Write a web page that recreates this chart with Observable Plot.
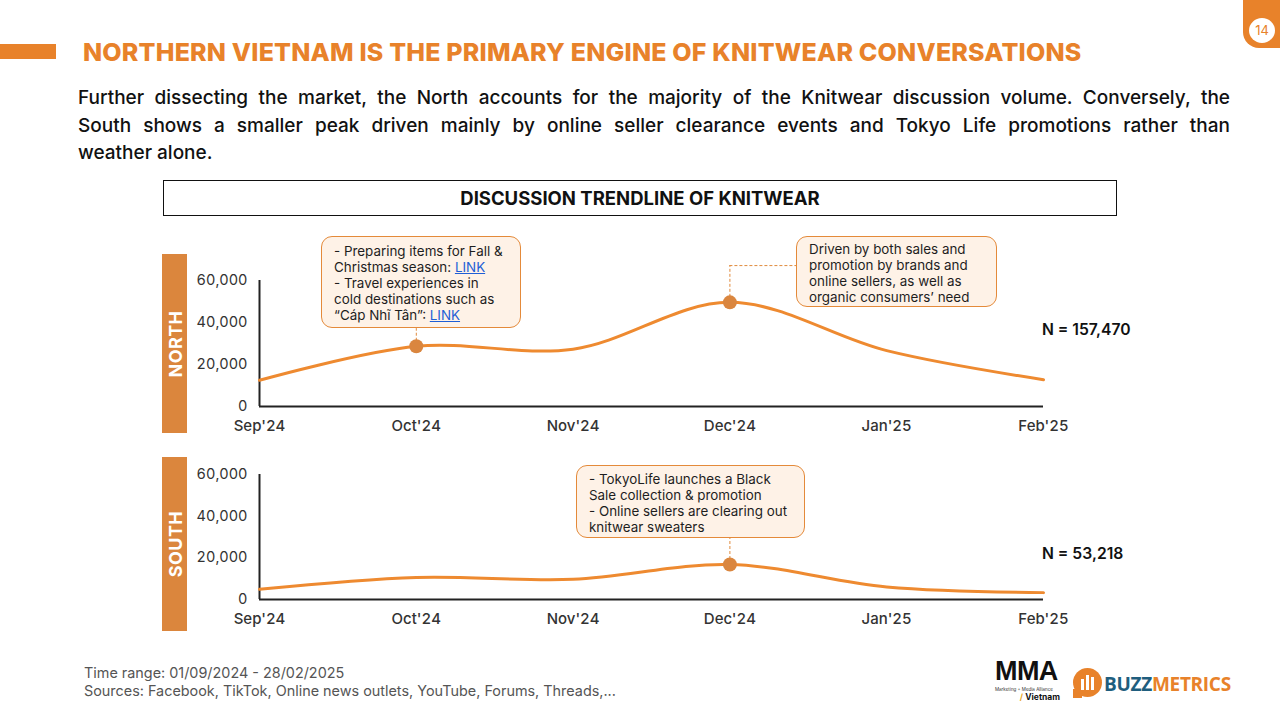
<!DOCTYPE html>
<html>
<head>
<meta charset="utf-8">
<script src="https://cdn.jsdelivr.net/npm/d3@7"></script>
<script src="https://cdn.jsdelivr.net/npm/@observablehq/plot@0.6"></script>
<style>
  html, body { margin: 0; padding: 0; background: #fff; }
  #page { position: relative; width: 1280px; height: 720px; overflow: hidden; font-family: Inter, "Noto Sans", sans-serif; color: #111; }
  .abs { position: absolute; }
  .box { position: absolute; box-sizing: border-box; border: 1px solid #E48A3A; background: #FEF2E7; border-radius: 11px; font-size: 13.4px; line-height: 16px; color: #1e1e1e; white-space: nowrap; }
  .box a { color: #1f5fd6; text-decoration: underline; }
  .side { position: absolute; background: #DB863D; width: 25px; }
  .side span { position: absolute; left: 50%; top: 50%; transform: translate(-50%, -50%) rotate(-90deg); color: #fff; font-weight: 700; font-size: 18px; letter-spacing: 0.4px; white-space: nowrap; }
  .nlabel { position: absolute; font-weight: 600; font-size: 15.7px; color: #111; }
  .jl { text-align: justify; text-align-last: justify; }
</style>
</head>
<body>
<div id="page">
  <div class="abs" style="left:0;top:44px;width:56px;height:15px;background:#E8822A;"></div>
  <div class="abs" id="title" style="left:83px;top:37px;font-size:25px;font-weight:800;color:#E8822A;white-space:nowrap;letter-spacing:0.2px;">NORTHERN VIETNAM IS THE PRIMARY ENGINE OF KNITWEAR CONVERSATIONS</div>

  <div class="abs" style="left:1243px;top:-10px;width:40px;height:58px;background:#E8822A;border-radius:0 0 0 16px;"></div>
  <div class="abs" style="left:1249px;top:18px;width:26px;height:25px;background:#fff;border-radius:50%;color:#E8822A;font-size:13px;line-height:25px;text-align:center;">14</div>

  <div class="abs" style="left:78px;top:84px;width:1152px;font-size:19px;font-weight:500;line-height:27.5px;color:#111;">
    <div class="jl">Further dissecting the market, the North accounts for the majority of the Knitwear discussion volume. Conversely, the</div>
    <div class="jl">South shows a smaller peak driven mainly by online seller clearance events and Tokyo Life promotions rather than</div>
    <div>weather alone.</div>
  </div>

  <div class="abs" style="left:163px;top:180px;width:954px;height:36px;box-sizing:border-box;border:1px solid #111;text-align:center;font-weight:700;font-size:18.5px;line-height:34px;">DISCUSSION TRENDLINE OF KNITWEAR</div>

  <div class="side" style="left:162px;top:254px;height:179px;"><span>NORTH</span></div>
  <div class="side" style="left:162px;top:457px;height:174px;"><span>SOUTH</span></div>

  <div class="abs" id="north" style="left:190px;top:240px;"></div>
  <div class="abs" id="south" style="left:190px;top:440px;"></div>

  <div class="nlabel" style="left:1042px;top:320px;">N = 157,470</div>
  <div class="nlabel" style="left:1042px;top:544px;">N = 53,218</div>

  <div class="box" style="left:321px;top:236px;width:200px;height:92px;padding:6px 0 0 12px;">- Preparing items for Fall &amp;<br>Christmas season: <a>LINK</a><br>- Travel experiences in<br>cold destinations such as<br>“Cáp Nhĩ Tân”: <a>LINK</a></div>
  <div class="box" style="left:796px;top:236px;width:201px;height:71px;padding:4px 0 0 12px;">Driven by both sales and<br>promotion by brands and<br>online sellers, as well as<br>organic consumers’ need</div>
  <div class="box" style="left:576px;top:465px;width:229px;height:73px;padding:5px 0 0 12px;">- TokyoLife launches a Black<br>Sale collection &amp; promotion<br>- Online sellers are clearing out<br>knitwear sweaters</div>

  <div class="abs" style="left:84px;top:664px;font-size:14.4px;line-height:18px;color:#555;white-space:nowrap;">Time range: 01/09/2024 - 28/02/2025<br>Sources: Facebook, TikTok, Online news outlets, YouTube, Forums, Threads,...</div>

  <!-- logos -->
  <div class="abs" style="left:995px;top:660px;font-family:'Liberation Sans',Arial,sans-serif;font-weight:900;font-size:27px;line-height:22px;letter-spacing:-0.6px;color:#111;">MMA</div>
  <div class="abs" style="left:995px;top:688px;font-size:4.5px;line-height:4px;color:#333;white-space:nowrap;">Marketing + Media Alliance</div>
  <div class="abs" style="left:1012px;top:693px;width:48px;font-size:8.5px;line-height:9px;font-weight:700;color:#111;text-align:right;white-space:nowrap;"><span style="color:#E8A317;">/</span> Vietnam</div>

  <div class="abs" style="left:1073px;top:668px;width:29px;height:29px;border-radius:50%;background:#E8822A;"></div>
  <div class="abs" style="left:1073px;top:689px;width:9px;height:9px;background:#E8822A;"></div>
  <div class="abs" style="left:1081px;top:679px;width:3px;height:11px;background:#fff;"></div>
  <div class="abs" style="left:1086px;top:675px;width:3px;height:15px;background:#fff;"></div>
  <div class="abs" style="left:1091px;top:677px;width:3px;height:13px;background:#fff;"></div>
  <div class="abs" style="left:1104px;top:671px;font-family:'Open Sans',sans-serif;font-weight:700;font-size:19px;line-height:26px;letter-spacing:-0.3px;"><span style="color:#1F5E7E;">BUZZ</span><span style="color:#E8822A;">METRICS</span></div>
</div>
<script>
const months = ["Sep'24", "Oct'24", "Nov'24", "Dec'24", "Jan'25", "Feb'25"];
const northValues = [12500, 28700, 27300, 49600, 26600, 12770];
const southValues = [4900, 10600, 9700, 16800, 6000, 3300];
const yTicks = [0, 20000, 40000, 60000];
// highlighted points: [month index, top end of leader (value), horizontal extent in month units]
const northHighlights = [[1, 37100, 0], [3, 67100, 0.43]];
const southHighlights = [[3, 29800, 0]];

const lineColor = "#EE8A30";
const dotColor = "#DA863F";
const leaderColor = "#E08A3C";

function chart(values, highlights, height, marginTop) {
  const data = values.map((v, i) => ({i, v, m: months[i]}));
  const hl = highlights.map(([i, top, ext]) => ({i, v: values[i], top, ext}));
  return Plot.plot({
    width: 960,
    height,
    marginLeft: 69,
    marginRight: 107,
    marginTop,
    marginBottom: 34,
    style: {fontFamily: "Inter, sans-serif", color: "#333", overflow: "visible"},
    x: {domain: [0, 5]},
    y: {domain: [0, 60000]},
    marks: [
      Plot.axisX({ticks: [0, 1, 2, 3, 4, 5], tickFormat: i => months[i], tickSize: 0, tickPadding: 14, fontSize: 15, fontWeight: 500, label: null}),
      Plot.axisY({ticks: yTicks, tickFormat: d3.format(","), tickSize: 0, tickPadding: 12, fontSize: 14.5, label: null}),
      Plot.ruleX([0], {y1: 0, y2: 60000, stroke: "#222", strokeWidth: 2}),
      Plot.ruleY([0], {x1: 0, x2: 5, stroke: "#222", strokeWidth: 2}),
      Plot.ruleX(hl, {x: "i", y1: "v", y2: "top", stroke: leaderColor, strokeDasharray: "3,2", strokeWidth: 1}),
      Plot.ruleY(hl.filter(d => d.ext > 0), {y: "top", x1: "i", x2: d => d.i + d.ext, stroke: leaderColor, strokeDasharray: "3,2", strokeWidth: 1}),
      Plot.line(data, {x: "i", y: "v", curve: "catmull-rom", stroke: lineColor, strokeWidth: 3}),
      Plot.dot(hl, {x: "i", y: "v", r: 7, fill: dotColor})
    ]
  });
}

document.getElementById("north").appendChild(chart(northValues, northHighlights, 200, 40));
document.getElementById("south").appendChild(chart(southValues, southHighlights, 193, 34));
</script>
</body>
</html>
